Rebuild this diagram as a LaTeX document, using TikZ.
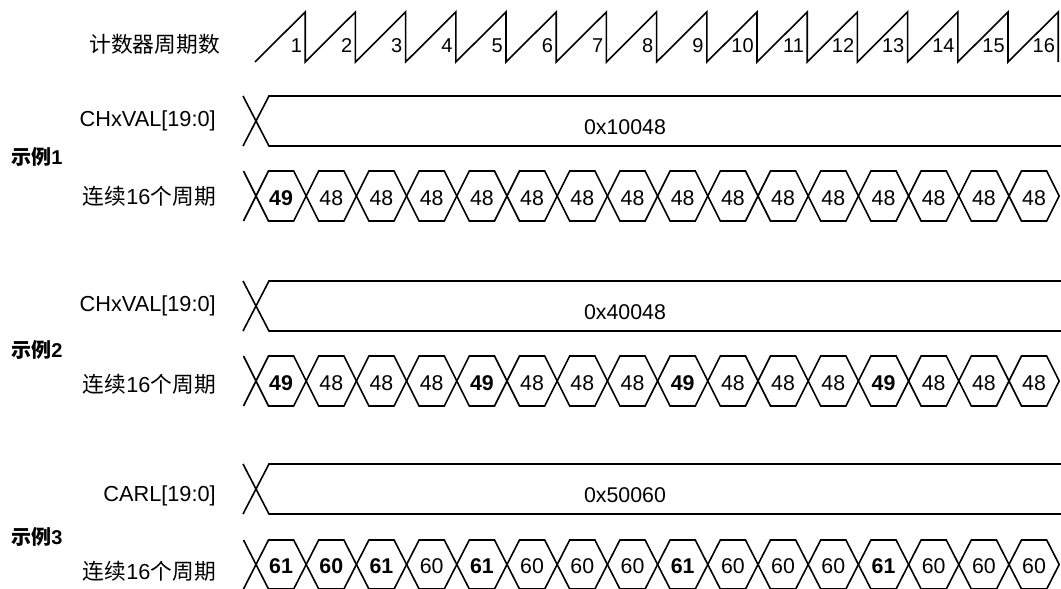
\documentclass[tikz,border=0pt]{standalone}
\usepackage{fontspec}
\setmainfont{Liberation Sans}
\newfontfamily\cjk{Noto Sans CJK SC}
\usetikzlibrary{positioning}
\tikzset{
  wave/.style={line width=1.2pt, line join=miter},
  lbl/.style={anchor=east, inner sep=0pt, font=\fontsize{16.3}{19}\selectfont},
  exlbl/.style={anchor=west, inner sep=0pt, font=\fontsize{15}{18}\selectfont\bfseries},
  val/.style={inner sep=0pt, font=\fontsize{16}{19}\selectfont},
  cnt/.style={anchor=base east, inner sep=0pt, font=\fontsize{15}{18}\selectfont},
}
\newcommand{\per}{50.2}
\newcommand{\hw}{12.5}
% bus with one value: top, bottom, name, text
\newcommand{\busrow}[4]{%
  \draw[wave] (243,#1) -- (269,#2) -- (1061,#2);
  \draw[wave] (243,#2) -- (269,#1) -- (1061,#1);
  \node[val] (#3) at (625,{(#1+#2)/2+6}) {#4};
}
% row of 16 hexagons: top, bottom, name, values
\newcommand{\hexrow}[4]{%
  \pgfmathsetmacro{\ym}{(#1+#2)/2}
  \draw[wave] (256-\hw,#1) -- (256,\ym) -- (256-\hw,#2);
  \foreach \v [count=\k from 0] in {#4}{
    \pgfmathsetmacro{\xa}{256+\per*\k}
    \pgfmathsetmacro{\xb}{\xa+\per}
    \draw[wave] (\xa,\ym) -- (\xa+\hw,#1) -- (\xb-\hw,#1) -- (\xb,\ym)
                -- (\xb-\hw,#2) -- (\xa+\hw,#2) -- cycle;
    \node[val] (#3\k) at ({\xa+\per/2},\ym+2) {\v};
  }
}
\begin{document}
\begin{tikzpicture}[x=0.75pt,y=-0.75pt]
  \useasboundingbox (0,0) rectangle (1061,589);
  % counter
  \node[lbl] (cntlbl) at (220,44) {\cjk 计数器周期数};
  \draw[wave] (255,62) \foreach \k in {1,...,16}{ -- ({255+\per*\k},12) -- ({255+\per*\k},62) };
  \foreach \k in {1,...,16}
    \node[cnt] (c\k) at ({255+\per*\k-3},52) {\k};
  % example 1
  \node[exlbl] (ex1) at (11,157) {{\cjk 示例}1};
  \node[lbl] (reg1) at (216,121) {CHxVAL[19:0]};
  \node[lbl] (seq1) at (216,196) {{\cjk 连续}16{\cjk 个周期}};
  \busrow{96}{146}{bus1}{0x10048}
  \hexrow{171}{221}{h1a}{\textbf{49},48,48,48,48,48,48,48,48,48,48,48,48,48,48,48}
  % example 2
  \node[exlbl] (ex2) at (11,350) {{\cjk 示例}2};
  \node[lbl] (reg2) at (216,306) {CHxVAL[19:0]};
  \node[lbl] (seq2) at (216,384) {{\cjk 连续}16{\cjk 个周期}};
  \busrow{281}{331}{bus2}{0x40048}
  \hexrow{356}{406}{h2a}{\textbf{49},48,48,48,\textbf{49},48,48,48,\textbf{49},48,48,48,\textbf{49},48,48,48}
  % example 3
  \node[exlbl] (ex3) at (11,537) {{\cjk 示例}3};
  \node[lbl] (reg3) at (216,496) {CARL[19:0]};
  \node[lbl] (seq3) at (216,571) {{\cjk 连续}16{\cjk 个周期}};
  \busrow{464}{514}{bus3}{0x50060}
  \hexrow{540}{589}{h3a}{\textbf{61},\textbf{60},\textbf{61},60,\textbf{61},60,60,60,\textbf{61},60,60,60,\textbf{61},60,60,60}
\end{tikzpicture}
\end{document}
